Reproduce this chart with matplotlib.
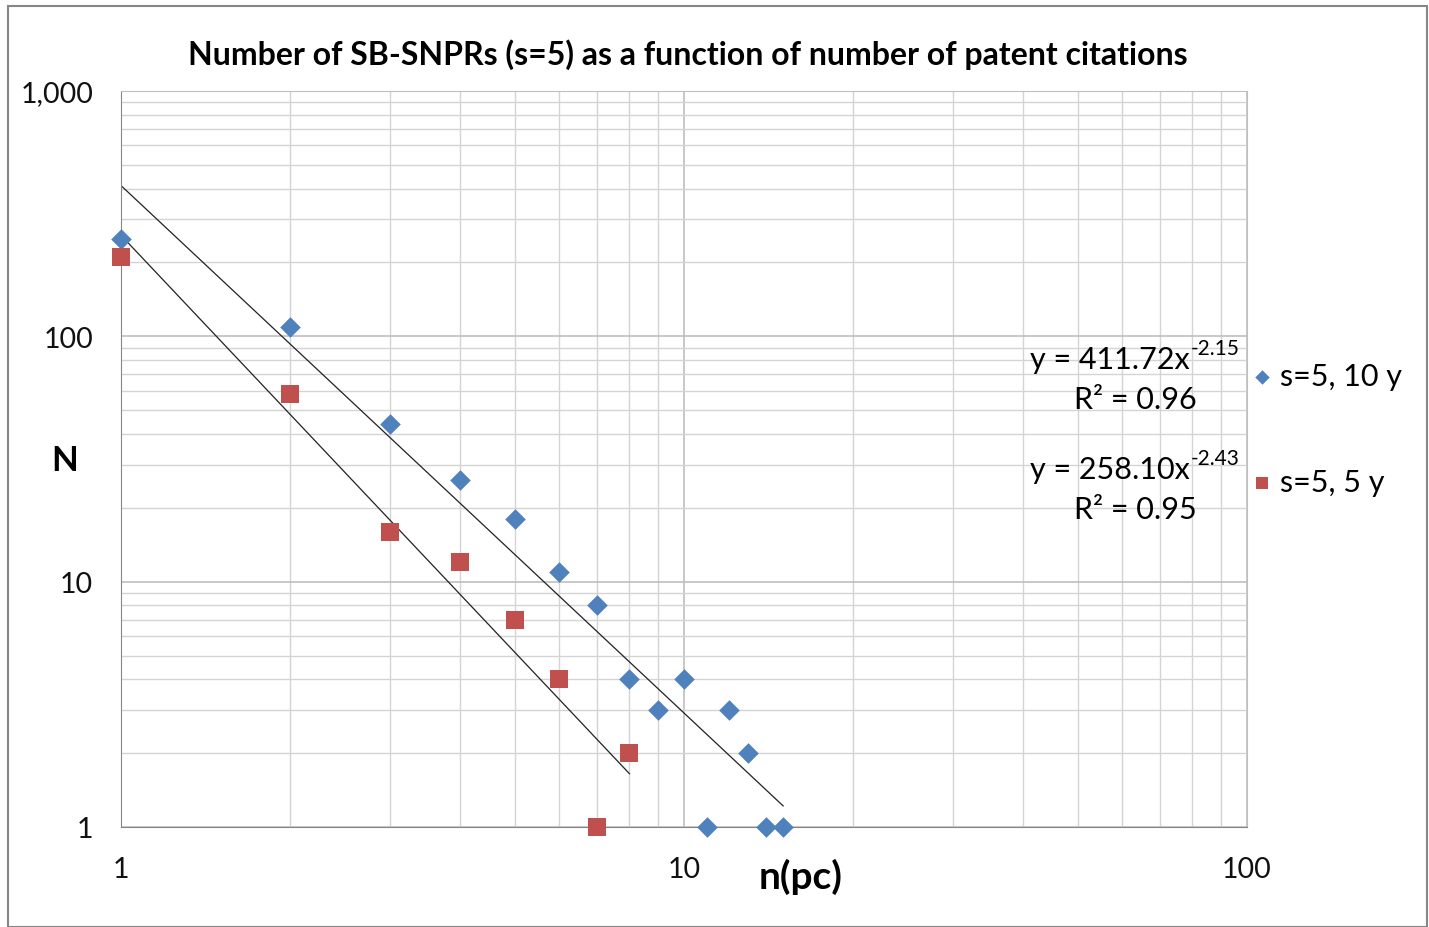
import numpy as np
import matplotlib
matplotlib.use('Agg')
import matplotlib.pyplot as plt
from matplotlib.ticker import FixedLocator, LogLocator, NullFormatter
from matplotlib.patches import Rectangle

plt.rcParams['font.family'] = ['Lato', 'DejaVu Sans']

# data
x_10y = [1, 2, 3, 4, 5, 6, 7, 8, 9, 10, 11, 12, 13, 14, 15]
n_10y = [250, 109, 44, 26, 18, 11, 8, 4, 3, 4, 1, 3, 2, 1, 1]
x_5y = [1, 2, 3, 4, 5, 6, 7, 8]
n_5y = [210, 58, 16, 12, 7, 4, 1, 2]

# power-law trendlines as printed on the chart
fit_10y = (411.72, -2.15, 0.96)
fit_5y = (258.10, -2.43, 0.95)

blue = '#4F81BD'
red = '#C0504D'

fig = plt.figure(figsize=(14.29, 9.28), dpi=100)
ax = fig.add_axes([121 / 1429, 1 - 828 / 928, (1247 - 121) / 1429, (828 - 92) / 928])

ax.set_xscale('log')
ax.set_yscale('log')
ax.set_xlim(1, 100)
ax.set_ylim(1, 1000)

# trendlines
for xs, (a, b, r2) in [(x_10y, fit_10y), (x_5y, fit_5y)]:
    xx = np.array([min(xs), max(xs)], dtype=float)
    ax.plot(xx, a * xx ** b, color='#222222', lw=0.9, zorder=2)

ax.scatter(x_10y, n_10y, marker='D', s=110, color=blue, zorder=3,
           label='s=5, 10 y', linewidths=0, clip_on=False)
ax.scatter(x_5y, n_5y, marker='s', s=150, color=red, zorder=3,
           label='s=5, 5 y', linewidths=0, clip_on=False)

# grid
ax.xaxis.set_major_locator(FixedLocator([1, 10, 100]))
ax.yaxis.set_major_locator(FixedLocator([1, 10, 100, 1000]))
ax.xaxis.set_minor_locator(LogLocator(base=10, subs=np.arange(2, 10)))
ax.yaxis.set_minor_locator(LogLocator(base=10, subs=np.arange(2, 10)))
ax.xaxis.set_minor_formatter(NullFormatter())
ax.yaxis.set_minor_formatter(NullFormatter())
ax.set_xticklabels(['1', '10', '100'])
ax.set_yticklabels(['1', '10', '100', '1,000'])
ax.grid(which='major', color='#bfbfbf', lw=1.2)
ax.grid(which='minor', color='#d4d4d4', lw=1.0)
ax.set_axisbelow(True)
ax.tick_params(which='both', length=0, labelsize=20.5, colors='#111111')
ax.tick_params(axis='y', pad=20)
ax.tick_params(axis='x', pad=21)
for s in ax.spines.values():
    s.set_color('#bfbfbf')
ax.spines['left'].set_color('#868686')
ax.spines['bottom'].set_color('#868686')

fig.text(688 / 1429, 1 - 55 / 928,
         'Number of SB-SNPRs (s=5) as a function of number of patent citations',
         fontsize=23, fontweight='bold', ha='center', va='center')

fig.text(65 / 1429, 1 - 461 / 928, 'N', fontsize=25, fontweight='bold',
         ha='center', va='center')
fig.text(801 / 1429, 1 - 877 / 928, 'n(pc)', fontsize=28, fontweight='bold',
         ha='center', va='center')

# trendline equations
for (a, b, r2), yc in [(fit_10y, 360), (fit_5y, 470)]:
    fig.text(1190 / 1429, 1 - yc / 928, 'y = %.2fx' % a,
             fontsize=22, ha='right', va='center')
    fig.text(1191 / 1429, 1 - (yc - 11) / 928, '%.2f' % b,
             fontsize=15, ha='left', va='center')
    fig.text(1135 / 1429, 1 - (yc + 40) / 928, 'R² = %.2f' % r2,
             fontsize=22, ha='center', va='center')

leg = ax.legend(loc='center left', bbox_to_anchor=(0.99, 1 - (430 - 92) / 736),
                frameon=False, fontsize=22, labelspacing=2.55,
                handletextpad=0.15, handlelength=0.9, borderaxespad=0.0,
                markerscale=0.7)

# outer frame
fig.patches.append(Rectangle((8 / 1429, 0.0), (1427 - 8) / 1429, 1 - 7 / 928,
                             transform=fig.transFigure, fill=False,
                             edgecolor='#868686', lw=1.5))

fig.savefig('out.png', dpi=100)
